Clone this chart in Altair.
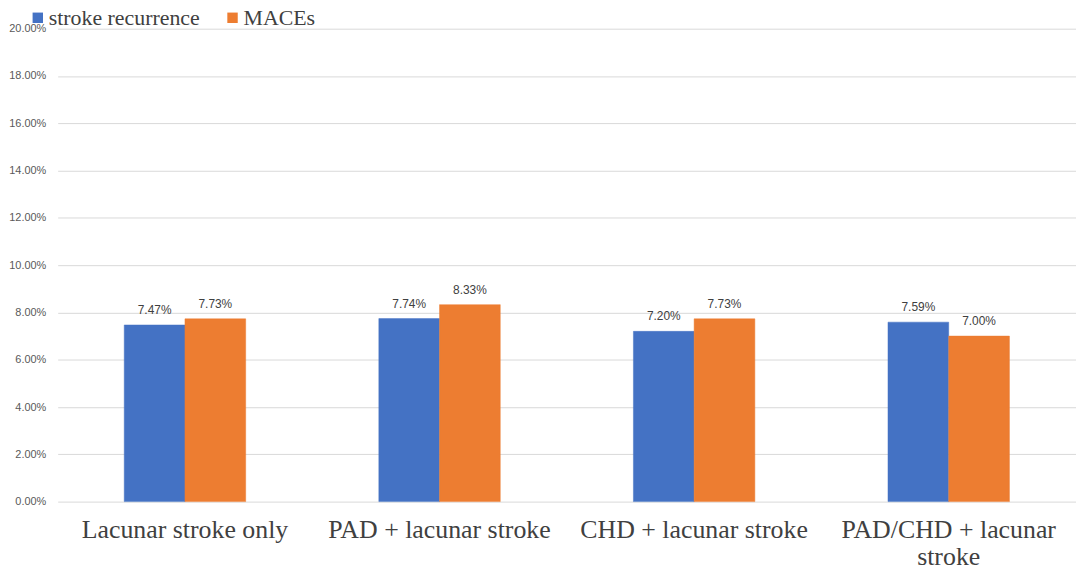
import altair as alt
import pandas as pd

categories = ["Lacunar stroke only", "PAD + lacunar stroke", "CHD + lacunar stroke", "PAD/CHD + lacunar stroke"]
series = ["stroke recurrence", "MACEs"]
stroke_recurrence = [7.47, 7.74, 7.20, 7.59]
maces = [7.73, 8.33, 7.73, 7.00]
colors = ["#4472C4", "#ED7D31"]

rows = []
for c, a, b in zip(categories, stroke_recurrence, maces):
    rows.append({"category": c, "series": series[0], "value": a / 100})
    rows.append({"category": c, "series": series[1], "value": b / 100})
df = pd.DataFrame(rows)

x_enc = alt.X(
    "category:N",
    sort=categories,
    title=None,
    scale=alt.Scale(paddingInner=0.523, paddingOuter=0.2615),
    axis=alt.Axis(
        labelAngle=0,
        labelFont="Liberation Serif",
        labelFontSize=26,
        labelColor="#404040",
        labelPadding=15,
        labelLimit=400,
        labelLineHeight=27,
        ticks=False,
        domain=False,
        grid=False,
        labelExpr="datum.value == 'PAD/CHD + lacunar stroke' ? ['PAD/CHD + lacunar', 'stroke'] : datum.value",
    ),
)
xo = alt.XOffset("series:N", sort=series, scale=alt.Scale(paddingInner=0, paddingOuter=0))

y_enc = alt.Y(
    "value:Q",
    title=None,
    scale=alt.Scale(domain=[0, 0.20], nice=False),
    axis=alt.Axis(
        format=".2%",
        values=[0, 0.02, 0.04, 0.06, 0.08, 0.10, 0.12, 0.14, 0.16, 0.18, 0.20],
        labelFont="Liberation Sans",
        labelFontSize=11,
        labelColor="#595959",
        labelPadding=12,
        ticks=False,
        domain=False,
        gridColor="#D9D9D9",
        gridWidth=1,
    ),
)

bars = alt.Chart(df).mark_bar(strokeWidth=0.8, strokeOpacity=0.6).encode(
    x=x_enc,
    xOffset=xo,
    y=y_enc,
    color=alt.Color(
        "series:N",
        sort=series,
        scale=alt.Scale(domain=series, range=colors),
        legend=alt.Legend(
            title=None,
            orient="none",
            legendX=-31,
            legendY=-22,
            direction="horizontal",
            columns=2,
            columnPadding=21,
            symbolType="square",
            symbolSize=110,
            symbolStrokeWidth=0,
            labelFont="Liberation Serif",
            labelFontSize=22,
            labelColor="#404040",
            labelOffset=0,
            labelLimit=400,
        ),
    ),
    stroke=alt.Color("series:N", sort=series, scale=alt.Scale(domain=series, range=colors), legend=None),
)

labels = alt.Chart(df).mark_text(
    dy=-11, baseline="alphabetic", font="Liberation Sans", fontSize=12, color="#404040"
).encode(
    x=alt.X("category:N", sort=categories),
    xOffset=xo,
    y="value:Q",
    text=alt.Text("value:Q", format=".2%"),
)

chart = (
    alt.layer(bars, labels)
    .properties(
        width=1025,
        height=476,
        background="white",
        autosize=alt.AutoSizeParams(type="none"),
        padding={"left": 50, "top": 19, "right": 0, "bottom": 68},
    )
    .configure_view(strokeWidth=0)
    .configure_axis(domain=False)
)

chart.save("out.html", embed_options={"renderer": "svg", "actions": False})
